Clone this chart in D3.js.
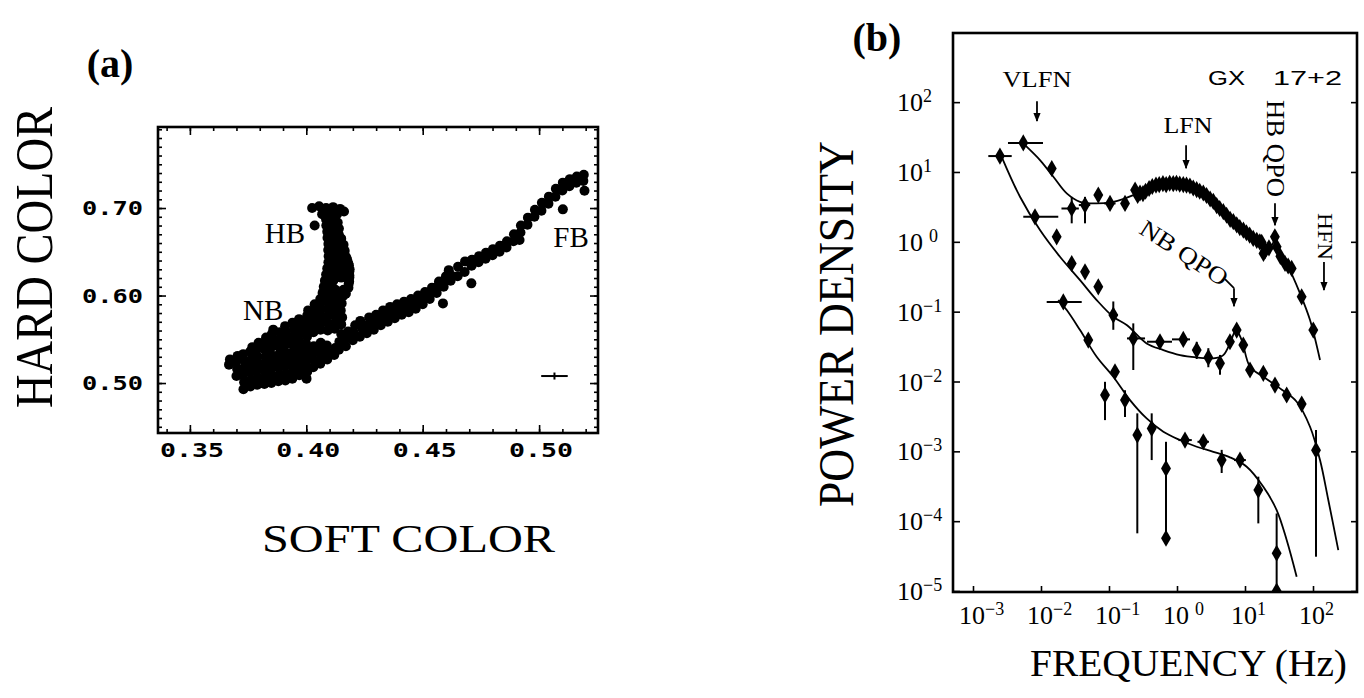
<!DOCTYPE html>
<html>
<head>
<meta charset="utf-8">
<script src="https://cdn.jsdelivr.net/npm/d3@7"></script>
<style>
  body { margin: 0; background: #fff; }
  text { fill: #000; }
</style>
</head>
<body>
<script>
// ---------- panel (a): color-color diagram ----------
const hbPoints = [
  [0.4025,0.700],[0.4055,0.702],[0.4085,0.700],[0.4115,0.701],[0.4145,0.699],[0.4162,0.696],
  [0.4100,0.694],[0.4068,0.693],[0.4132,0.693],[0.4036,0.680],
  [0.4085,0.687],[0.4120,0.688],[0.4086,0.680],[0.4115,0.680],
  [0.4090,0.673],[0.4126,0.673],[0.4091,0.666],[0.4125,0.666],[0.4150,0.665],
  [0.4095,0.659],[0.4130,0.659],[0.4160,0.658],[0.4094,0.652],[0.4131,0.652],[0.4165,0.651],
  [0.4096,0.645],[0.4130,0.645],[0.4171,0.644],[0.4095,0.638],[0.4136,0.638],[0.4180,0.637],
  [0.4090,0.631],[0.4135,0.631],[0.4186,0.630],[0.4085,0.624],[0.4125,0.624],[0.4185,0.623],
  [0.4080,0.617],[0.4116,0.617],[0.4184,0.616],[0.4075,0.610],[0.4110,0.610],[0.4181,0.609],
  [0.4070,0.603],[0.4105,0.603],[0.4145,0.603],[0.4170,0.602],
  [0.4060,0.596],[0.4100,0.596],[0.4140,0.596],
  [0.4100,0.6835],[0.4135,0.6835],[0.4108,0.6765],[0.4140,0.6765],[0.4108,0.6695],[0.4140,0.6695],
  [0.4112,0.6625],[0.4145,0.6625],[0.4112,0.6555],[0.4147,0.6555],[0.4113,0.6485],[0.4150,0.6485],
  [0.4113,0.6415],[0.4155,0.6415],[0.4175,0.6415],[0.4112,0.6345],[0.4158,0.6345],[0.4183,0.6345],
  [0.4108,0.6275],[0.4155,0.6275],[0.4185,0.6275],[0.4100,0.6205],[0.4150,0.6205],[0.4185,0.6205],
  [0.4095,0.6135],[0.4182,0.6135],[0.4090,0.6065],[0.4125,0.6065],[0.4160,0.6065],
  [0.4082,0.5995],[0.4120,0.5995],[0.4158,0.5995]
];
const nbPoints = [
  [0.3668,0.521],[0.3672,0.527],
  [0.3700,0.508],[0.3703,0.516],[0.3698,0.524],[0.3705,0.531],
  [0.3730,0.493],[0.3733,0.501],[0.3728,0.509],[0.3731,0.517],[0.3735,0.525],[0.3729,0.533],
  [0.3760,0.496],[0.3764,0.504],[0.3758,0.512],[0.3762,0.520],[0.3766,0.528],[0.3759,0.536],[0.3768,0.541],
  [0.3790,0.498],[0.3793,0.506],[0.3788,0.514],[0.3794,0.522],[0.3791,0.530],[0.3787,0.538],[0.3795,0.546],
  [0.3820,0.499],[0.3824,0.507],[0.3818,0.515],[0.3822,0.523],[0.3826,0.531],[0.3819,0.539],[0.3823,0.547],[0.3827,0.552],
  [0.3850,0.500],[0.3853,0.508],[0.3848,0.516],[0.3854,0.524],[0.3851,0.532],[0.3847,0.540],[0.3855,0.548],[0.3852,0.556],[0.3858,0.561],
  [0.3880,0.502],[0.3884,0.510],[0.3878,0.518],[0.3882,0.526],[0.3886,0.534],[0.3879,0.542],[0.3883,0.550],[0.3887,0.558],
  [0.3910,0.503],[0.3913,0.511],[0.3908,0.519],[0.3914,0.527],[0.3911,0.535],[0.3907,0.543],[0.3915,0.551],[0.3912,0.559],[0.3909,0.565],
  [0.3940,0.505],[0.3944,0.513],[0.3938,0.521],[0.3942,0.529],[0.3946,0.537],[0.3939,0.545],[0.3943,0.553],[0.3947,0.561],[0.3941,0.569],
  [0.3970,0.509],[0.3973,0.517],[0.3968,0.525],[0.3974,0.533],[0.3971,0.541],[0.3967,0.549],[0.3975,0.557],[0.3972,0.565],[0.3969,0.573],
  [0.4001,0.505],[0.4004,0.513],[0.3998,0.521],[0.4002,0.529],[0.4006,0.537],[0.3999,0.545],[0.4003,0.553],[0.4007,0.561],[0.4000,0.569],[0.4004,0.577],[0.4008,0.583],
  [0.4030,0.518],[0.4033,0.526],[0.4028,0.534],[0.4032,0.542],[0.4031,0.558],[0.4034,0.566],[0.4029,0.574],[0.4033,0.582],[0.4036,0.590],
  [0.4060,0.522],[0.4064,0.530],[0.4058,0.538],[0.4062,0.546],[0.4061,0.561],[0.4065,0.569],[0.4059,0.577],[0.4063,0.585],[0.4066,0.593],
  [0.4090,0.527],[0.4093,0.535],[0.4088,0.543],[0.4092,0.560],[0.4094,0.568],[0.4089,0.576],[0.4093,0.584],[0.4096,0.592],[0.4091,0.600],
  [0.4120,0.532],[0.4124,0.540],[0.4122,0.562],[0.4125,0.570],[0.4119,0.578],[0.4123,0.586],[0.4126,0.594],
  [0.4150,0.567],[0.4154,0.575],[0.4148,0.583],[0.4152,0.591]
];
const fbPoints = [
  [0.4140,0.538],[0.4142,0.547],[0.4150,0.556],[0.4170,0.542],[0.4172,0.551],[0.4180,0.559],
  [0.4200,0.549],[0.4203,0.558],[0.4210,0.566],[0.4230,0.553],[0.4240,0.562],[0.4232,0.571],
  [0.4260,0.557],[0.4262,0.566],[0.4270,0.575],[0.4290,0.561],[0.4292,0.570],[0.4300,0.578],
  [0.4320,0.566],[0.4322,0.575],[0.4330,0.583],[0.4350,0.570],[0.4352,0.579],[0.4360,0.587],
  [0.4380,0.574],[0.4382,0.582],[0.4390,0.590],[0.4410,0.578],[0.4412,0.585],[0.4420,0.593],
  [0.4440,0.581],[0.4442,0.589],[0.4450,0.596],[0.4470,0.585],[0.4472,0.592],[0.4480,0.600],
  [0.4500,0.590],[0.4502,0.597],[0.4510,0.604],[0.4530,0.596],[0.4532,0.603],[0.4540,0.609],
  [0.4560,0.603],[0.4562,0.610],[0.4570,0.616],[0.4590,0.610],[0.4592,0.616],[0.4600,0.622],
  [0.4620,0.617],[0.4622,0.623],[0.4612,0.629],[0.4650,0.622],[0.4652,0.633],
  [0.4680,0.627],[0.4682,0.639],[0.4710,0.634],[0.4712,0.641],[0.4740,0.638],[0.4742,0.645],
  [0.4770,0.642],[0.4772,0.649],[0.4800,0.646],[0.4802,0.653],[0.4830,0.650],[0.4832,0.657],
  [0.4860,0.655],[0.4862,0.662],[0.4890,0.662],[0.4892,0.670],[0.4920,0.672],[0.4922,0.680],
  [0.4950,0.681],[0.4952,0.689],[0.4980,0.690],[0.4982,0.698],[0.5010,0.697],[0.5012,0.706],
  [0.5040,0.705],[0.5042,0.713],[0.5070,0.713],[0.5072,0.722],[0.5100,0.720],[0.5102,0.729],
  [0.5130,0.725],[0.5132,0.733],[0.5160,0.729],[0.5162,0.736],[0.5190,0.731],[0.5192,0.738],
  [0.4587,0.5910],[0.5195,0.7198],[0.5102,0.6985],[0.4709,0.6139],[0.4916,0.6634]
];
const errorCross = [0.5066, 0.508, 0.0057, 0.004]; // soft, hard, dSoft, dHard
const softTicks = [0.35, 0.40, 0.45, 0.50];
const hardTicks = [0.50, 0.60, 0.70];
const branchLabels = [["HB", 0.3908, 0.660], ["NB", 0.3815, 0.572], ["FB", 0.5137, 0.6554]];

// ---------- panel (b): power spectra (f, P, fLo, fHi, PLo, PHi) ----------
const topSpectrum = [
  [0.00549,26.1,0.00327,0.0107,23,29],[0.0144,11.2,null,null,9.5,13.2],
  [0.0283,3.0,0.020,0.036,1.84,4.4],[0.0444,3.36,0.036,0.053,1.84,4.4],
  [0.0696,4.67],[0.1035,3.55,0.085,0.125],[0.172,3.55],
  [0.242,5.5],[0.264,4.6],[0.286,5.0],[0.316,4.9],[0.345,5.3],[0.389,5.8],[0.433,6.2],
  [0.491,6.5],[0.548,6.6],[0.621,6.8],[0.693,6.6],[0.780,6.9],[0.881,6.8],[0.982,6.9],
  [1.096,6.7],[1.237,6.6],[1.380,6.5],[1.549,6.3],[1.734,5.9],[1.945,5.6],[2.158,5.3],
  [2.437,5.0],[2.72,4.6],[3.07,4.1],[3.42,3.8],[3.83,3.3],[4.25,3.0],[4.80,2.7],[5.36,2.4],
  [6.04,2.1],[6.73,1.95],[7.55,1.75],[8.38,1.6],[9.47,1.47],[10.5,1.35],[11.7,1.25],
  [13.2,1.12],[14.9,1.05],[16.5,1.0],[17.6,0.98],[18.7,0.68],[19.8,0.75],[22.5,0.82],
  [27.5,1.18,null,null,0.95,1.4],[29.2,0.85],[33.1,0.62],[38.8,0.49],[43.1,0.45],[48.6,0.416],
  [68.1,0.163],[101,0.0545]
];
const midSpectrum = [
  [0.00249,16.9,0.00168,0.00371],[0.00816,2.28,0.00549,0.01795],[0.0170,1.18],[0.0283,0.49],
  [0.0444,0.372],[0.0696,0.227],[0.1157,0.0893,0.100,0.135,0.055,0.14],
  [0.2276,0.0414,0.184,0.339,0.0146,0.068],[0.562,0.0371,0.362,0.844],[1.238,0.0401,0.844,1.553],
  [1.95,0.0282,null,null,0.021,0.037],[2.89,0.0221,null,null,0.016,0.030],
  [4.29,0.0182,null,null,0.0125,0.024],[6.01,0.0371],[7.55,0.0545],[9.44,0.0333],
  [11.85,0.0146],[18.6,0.0131],[27.6,0.00889],[41.0,0.0064],[68.2,0.00475],
  [110.7,0.00104,null,null,0.000031,0.00202]
];
const lowSpectrum = [
  [0.0213,0.138,0.01213,0.0397],[0.0496,0.0392],[0.1225,0.0138],
  [0.0873,0.0064,null,null,0.0028,0.0099],[0.1718,0.00542,null,null,0.0031,0.0075],
  [0.2608,0.00171,null,null,0.000067,0.0035],[0.4246,0.00213,null,null,0.00075,0.0035],
  [0.689,0.00057,null,null,0.000057,0.00137],[1.311,0.00145,1.05,1.65],[2.44,0.00137,2.0,2.95],
  [4.54,0.00075,null,null,0.00049,0.00105],[8.44,0.00075,6.9,10.3],
  [15.7,0.000279,null,null,0.000093,0.000434],[29.2,0.0000347,null,null,0.00001,0.000129]
];
const lowLimitMarks = [[0.689,0.000057],[29.2,0.00001]];

// model curves (f, P)
const topModel = [
  [0.00582,24.2],[0.00966,14.8],[0.0152,8.53],[0.0239,4.93],[0.0375,3.74],[0.0659,3.55],
  [0.1156,3.74],[0.2275,4.67],[0.358,5.82],[0.630,6.70],[1.107,6.85],[1.950,6.14],[3.42,4.19],
  [6.01,2.28],[10.59,1.318],[18.6,0.948],[24.7,0.897],[27.6,1.119],[30.9,0.805],[41.0,0.491],
  [64.4,0.183],[90.4,0.0759],[126.8,0.0203]
];
const midModel = [
  [0.00264,16.5],[0.00491,4.42],[0.00966,1.472],[0.0190,0.611],[0.0375,0.283],[0.0659,0.1466],
  [0.1156,0.0845],[0.182,0.0643],[0.358,0.0351],[0.630,0.0282],[1.107,0.0239],[1.950,0.0221],
  [3.42,0.0214],[4.80,0.0239],[6.01,0.0351],[7.38,0.0545],[8.94,0.0392],[11.85,0.01626],
  [18.6,0.01169],[32.7,0.00798],[57.5,0.00513],[90.4,0.00225],[126.8,0.00075],[167.9,0.000201],
  [235.5,0.0000386]
];
const lowModel = [
  [0.01795,0.1466],[0.0239,0.1054],[0.0375,0.0545],[0.0659,0.0226],[0.1156,0.01169],
  [0.2037,0.00542],[0.358,0.00296],[0.630,0.00191],[1.107,0.001452],[1.950,0.001164],
  [3.42,0.000986],[6.01,0.00082],[10.59,0.000603],[18.6,0.000311],[29.2,0.0001445],
  [41.0,0.0000537],[57.5,0.000016]
];
const freqDecades = [-3, -2, -1, 0, 1, 2];
const powerDecades = [2, 1, 0, -1, -2, -3, -4, -5];

const serif = '"Liberation Serif", "DejaVu Serif", serif';

const svg = d3.select('body').append('svg')
    .attr('xmlns', 'http://www.w3.org/2000/svg')
    .attr('width', 1364)
    .attr('height', 698)
    .style('background-color', 'white');

svg.append('defs').append('marker')
    .attr('id', 'ah')
    .attr('viewBox', '0 0 10 10')
    .attr('refX', 9).attr('refY', 5)
    .attr('markerWidth', 5).attr('markerHeight', 5)
    .attr('orient', 'auto')
  .append('path').attr('d', 'M0,1L10,5L0,9Z').attr('fill', '#000');

// ================= panel (a) =================
const xA = d3.scaleLinear().domain([0.3363, 0.5253]).range([158, 598]);
const yA = d3.scaleLinear().domain([0.4429, 0.7926]).range([433, 127]);

const gA = svg.append('g');

function inTicks(g, axis, scale, values, size) {
  g.call(axis(scale).tickValues(values).tickSize(-size).tickFormat(''))
   .call(s => s.select('.domain').remove())
   .selectAll('line').attr('stroke', '#000').attr('stroke-width', 1.6);
}
const minorSoft = d3.range(34, 53).map(v => v / 100);
const minorHard = d3.range(45, 80).map(v => v / 100);

[[d3.axisBottom, 433], [d3.axisTop, 127]].forEach(([ax, y]) => {
  inTicks(gA.append('g').attr('transform', `translate(0,${y})`), ax, xA, minorSoft, 4);
  inTicks(gA.append('g').attr('transform', `translate(0,${y})`), ax, xA, softTicks, 8);
});
[[d3.axisLeft, 158], [d3.axisRight, 598]].forEach(([ax, x]) => {
  inTicks(gA.append('g').attr('transform', `translate(${x},0)`), ax, yA, minorHard, 4);
  inTicks(gA.append('g').attr('transform', `translate(${x},0)`), ax, yA, hardTicks, 8);
});

gA.append('rect')
    .attr('x', xA.range()[0]).attr('y', yA.range()[1])
    .attr('width', xA.range()[1] - xA.range()[0])
    .attr('height', yA.range()[0] - yA.range()[1])
    .attr('fill', 'none').attr('stroke', '#000').attr('stroke-width', 2.6);

gA.selectAll('.soft-label').data(softTicks).enter().append('text')
    .attr('x', d => xA(d) + 2).attr('y', 457)
    .attr('text-anchor', 'middle')
    .attr('textLength', 64).attr('lengthAdjust', 'spacingAndGlyphs')
    .style('font-family', '"DejaVu Sans Mono", monospace').style('font-size', '19px')
    .style('font-weight', 'bold')
    .text(d3.format('.2f'));

gA.selectAll('.hard-label').data(hardTicks).enter().append('text')
    .attr('x', 82).attr('y', d => yA(d) + 7)
    .attr('textLength', 61).attr('lengthAdjust', 'spacingAndGlyphs')
    .style('font-family', '"DejaVu Sans Mono", monospace').style('font-size', '19px')
    .style('font-weight', 'bold')
    .text(d3.format('.2f'));

const allColor = hbPoints.concat(nbPoints, fbPoints);
gA.append('g').selectAll('circle').data(allColor).enter().append('circle')
    .attr('cx', d => xA(d[0])).attr('cy', d => yA(d[1]))
    .attr('r', 5).attr('fill', '#000');

// typical error bar
gA.append('line')
    .attr('x1', xA(errorCross[0] - errorCross[2])).attr('x2', xA(errorCross[0] + errorCross[2]))
    .attr('y1', yA(errorCross[1])).attr('y2', yA(errorCross[1]))
    .attr('stroke', '#000').attr('stroke-width', 2);
gA.append('line')
    .attr('x1', xA(errorCross[0])).attr('x2', xA(errorCross[0]))
    .attr('y1', yA(errorCross[1] - errorCross[3])).attr('y2', yA(errorCross[1] + errorCross[3]))
    .attr('stroke', '#000').attr('stroke-width', 2);

gA.selectAll('.branch').data(branchLabels).enter().append('text')
    .attr('x', d => xA(d[1])).attr('y', d => yA(d[2]))
    .attr('text-anchor', 'middle')
    .style('font-family', serif).style('font-size', '29px')
    .text(d => d[0]);

svg.append('text').attr('x', 110).attr('y', 77).attr('text-anchor', 'middle')
    .style('font-family', serif).style('font-size', '40px').style('font-weight', 'bold')
    .text('(a)');
svg.append('text').attr('transform', 'translate(52,408) rotate(-90)')
    .attr('textLength', 301).attr('lengthAdjust', 'spacingAndGlyphs')
    .style('font-family', serif).style('font-size', '52px')
    .text('HARD COLOR');
svg.append('text').attr('x', 262).attr('y', 552)
    .attr('textLength', 293).attr('lengthAdjust', 'spacingAndGlyphs')
    .style('font-family', serif).style('font-size', '41px')
    .text('SOFT COLOR');

// ================= panel (b) =================
const xB = d3.scaleLog().domain([Math.pow(10, -3.294), Math.pow(10, 2.647)]).range([953, 1357]);
const yB = d3.scaleLog().domain([Math.pow(10, -5.014), Math.pow(10, 2.99)]).range([592, 33]);

const gB = svg.append('g');
const fTicks = freqDecades.map(e => Math.pow(10, e));
const pTicks = powerDecades.map(e => Math.pow(10, e));

inTicks(gB.append('g').attr('transform', 'translate(0,592)'), d3.axisBottom, xB, fTicks, 6);
inTicks(gB.append('g').attr('transform', 'translate(953,0)'), d3.axisLeft, yB, pTicks, 7);
inTicks(gB.append('g').attr('transform', 'translate(1357,0)'), d3.axisRight, yB, pTicks, 6);

gB.append('rect')
    .attr('x', 953).attr('y', 33).attr('width', 1357 - 953).attr('height', 592 - 33)
    .attr('fill', 'none').attr('stroke', '#000').attr('stroke-width', 2.6);

function expLabel(sel, e) {
  sel.append('tspan').text('10');
  sel.append('tspan')
      .attr('dx', e === 0 ? 6 : 0).attr('dy', -9)
      .style('font-size', '18px')
      .text(e < 0 ? '\u2212' + (-e) : String(e));
}
gB.selectAll('.p-label').data(powerDecades).enter().append('text')
    .attr('x', 897).attr('y', d => yB(Math.pow(10, d)) + 9)
    .style('font-family', serif).style('font-size', '26px')
    .each(function(d) { expLabel(d3.select(this), d); });
gB.selectAll('.f-label').data(freqDecades).enter().append('text')
    .attr('x', d => xB(Math.pow(10, d)) - 14).attr('y', 624)
    .style('font-family', serif).style('font-size', '26px')
    .each(function(d) { expLabel(d3.select(this), d); });

svg.append('clipPath').attr('id', 'clipB')
  .append('rect').attr('x', 953).attr('y', 33).attr('width', 404).attr('height', 559);
const plotB = gB.append('g').attr('clip-path', 'url(#clipB)');

const model = d3.line()
    .x(d => xB(d[0])).y(d => yB(d[1]))
    .curve(d3.curveCatmullRom.alpha(0.5));
[topModel, midModel, lowModel].forEach(m => {
  plotB.append('path').datum(m).attr('d', model)
      .attr('fill', 'none').attr('stroke', '#000').attr('stroke-width', 1.8);
});

const diamond = d3.symbol().type(d3.symbolDiamond).size(85);
[topSpectrum, midSpectrum, lowSpectrum].forEach(spec => {
  const g = plotB.append('g');
  spec.filter(d => d[2] != null).forEach(d => {
    g.append('line').attr('x1', xB(d[2])).attr('x2', xB(d[3]))
        .attr('y1', yB(d[1])).attr('y2', yB(d[1]))
        .attr('stroke', '#000').attr('stroke-width', 2);
  });
  spec.filter(d => d[4] != null).forEach(d => {
    g.append('line').attr('x1', xB(d[0])).attr('x2', xB(d[0]))
        .attr('y1', yB(d[4])).attr('y2', yB(d[5]))
        .attr('stroke', '#000').attr('stroke-width', 2);
  });
  g.selectAll('path').data(spec).enter().append('path')
      .attr('d', diamond)
      .attr('transform', d => `translate(${xB(d[0])},${yB(d[1])})`)
      .attr('fill', '#000');
});
plotB.selectAll('.low-mark').data(lowLimitMarks).enter().append('path')
    .attr('d', diamond)
    .attr('transform', d => `translate(${xB(d[0])},${yB(d[1])})`)
    .attr('fill', '#000');

// annotations (anchored in data units)
function arrow(f1, p1, f2, p2) {
  gB.append('line')
      .attr('x1', xB(f1)).attr('y1', yB(p1)).attr('x2', xB(f2)).attr('y2', yB(p2))
      .attr('stroke', '#000').attr('stroke-width', 1.8)
      .attr('marker-end', 'url(#ah)');
}
gB.append('text').attr('x', xB(0.00873)).attr('y', yB(164)).attr('text-anchor', 'middle')
    .attr('textLength', 69).attr('lengthAdjust', 'spacingAndGlyphs')
    .style('font-family', serif).style('font-size', '24px').text('VLFN');
arrow(0.00873, 103, 0.00873, 53.5);
gB.append('text').attr('x', xB(1.45)).attr('y', yB(36)).attr('text-anchor', 'middle')
    .attr('textLength', 49).attr('lengthAdjust', 'spacingAndGlyphs')
    .style('font-family', serif).style('font-size', '23px').text('LFN');
arrow(1.36, 24.2, 1.36, 11.35);

gB.append('text').attr('transform', `translate(${xB(21.1)},${yB(107)}) rotate(90)`)
    .attr('textLength', 97).attr('lengthAdjust', 'spacingAndGlyphs')
    .style('font-family', serif).style('font-size', '26px').text('HB QPO');
arrow(27.6, 3.58, 27.6, 1.73);
gB.append('text').attr('transform', `translate(${xB(118.5)},${yB(2.58)}) rotate(90)`)
    .attr('textLength', 47).attr('lengthAdjust', 'spacingAndGlyphs')
    .style('font-family', serif).style('font-size', '22px').text('HFN');
arrow(145, 0.513, 145, 0.204);

gB.append('text').attr('transform', `translate(${xB(1.27)},${yB(0.69)}) rotate(33)`)
    .attr('text-anchor', 'middle').attr('dominant-baseline', 'central')
    .attr('textLength', 100).attr('lengthAdjust', 'spacingAndGlyphs')
    .style('font-family', serif).style('font-size', '24px').text('NB QPO');
gB.append('line')
    .attr('x1', xB(5.08)).attr('y1', yB(0.292)).attr('x2', xB(6.89)).attr('y2', yB(0.217))
    .attr('stroke', '#000').attr('stroke-width', 1.8);
arrow(6.89, 0.217, 6.89, 0.120);

gB.append('text').attr('x', 1208).attr('y', 85)
    .style('font-family', '"Liberation Sans", Arial, sans-serif').style('font-size', '21px')
    .attr('textLength', 37).attr('lengthAdjust', 'spacingAndGlyphs').text('GX');
gB.append('text').attr('x', 1273).attr('y', 85)
    .style('font-family', '"Liberation Sans", Arial, sans-serif').style('font-size', '21px')
    .attr('textLength', 69).attr('lengthAdjust', 'spacingAndGlyphs').text('17+2');

svg.append('text').attr('x', 877).attr('y', 51).attr('text-anchor', 'middle')
    .style('font-family', serif).style('font-size', '40px').style('font-weight', 'bold')
    .text('(b)');
svg.append('text').attr('transform', 'translate(853,507) rotate(-90)')
    .attr('textLength', 366).attr('lengthAdjust', 'spacingAndGlyphs')
    .style('font-family', serif).style('font-size', '50px')
    .text('POWER DENSITY');
svg.append('text').attr('x', 1030).attr('y', 676)
    .attr('textLength', 317).attr('lengthAdjust', 'spacingAndGlyphs')
    .style('font-family', serif).style('font-size', '37px')
    .text('FREQUENCY (Hz)');
</script>
</body>
</html>
